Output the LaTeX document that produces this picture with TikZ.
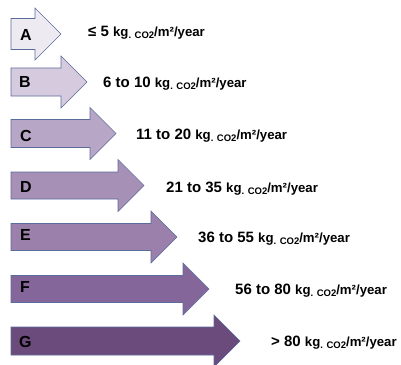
\documentclass[tikz,border=0pt]{standalone}
\usepackage{fontspec}
\setmainfont{Liberation Sans}
\definecolor{arrowline}{HTML}{5A6C9C}
\definecolor{cA}{HTML}{EEEAF2}
\definecolor{cB}{HTML}{D6CADF}
\definecolor{cC}{HTML}{B8A6C6}
\definecolor{cD}{HTML}{A690B5}
\definecolor{cE}{HTML}{9A80AA}
\definecolor{cF}{HTML}{85669A}
\definecolor{cG}{HTML}{6B4A7C}
\tikzset{
  arrowshape/.style={draw=arrowline, line width=0.6pt, line join=miter},
  lettertext/.style={font=\fontsize{16}{16}\selectfont\bfseries, anchor=base west, inner sep=0pt},
  valtext/.style={font=\fontsize{15}{15}\selectfont\bfseries, anchor=base west, inner sep=0pt},
}
\newcommand{\unitstr}{{\fontsize{13.2}{13}\selectfont kg\raisebox{-2.5pt}{\fontsize{9.5}{9}\selectfont. CO2}/m²/year}}
% #1 name, #2 head start x, #3 centre y, #4 colour, #5 shaft half height
\newcommand{\ratingarrow}[5]{%
  \filldraw[arrowshape, fill=#4] (11,#3-#5) -- (#2,#3-#5) -- (#2,#3-26) -- (#2+26,#3)
    -- (#2,#3+26) -- (#2,#3+#5) -- (11,#3+#5) -- cycle;
  \coordinate (#1tip) at (#2+26,#3);
}
\begin{document}
\begin{tikzpicture}[x=1pt,y=-1pt]
\useasboundingbox (0,0) rectangle (401,364);
\ratingarrow{A}{35}{34}{cA}{15.5}
\ratingarrow{B}{61}{82}{cB}{14}
\ratingarrow{C}{90}{133.5}{cC}{14}
\ratingarrow{D}{118}{185.5}{cD}{13.5}
\ratingarrow{E}{151}{237}{cE}{13.5}
\ratingarrow{F}{183}{289}{cF}{13.5}
\ratingarrow{G}{214}{341}{cG}{14}
\node[lettertext] (lA) at (20,40) {A};
\node[lettertext] (lB) at (19,87) {B};
\node[lettertext] (lC) at (20,141) {C};
\node[lettertext] (lD) at (20,192) {D};
\node[lettertext] (lE) at (20,240) {E};
\node[lettertext] (lF) at (20,292) {F};
\node[lettertext] (lG) at (19,347) {G};
\node[valtext] (vA) at (88,36) {≤ 5 \unitstr};
\node[valtext] (vB) at (103,87) {6 to 10 \unitstr};
\node[valtext] (vC) at (136,139) {11 to 20 \unitstr};
\node[valtext] (vD) at (166,192) {21 to 35 \unitstr};
\node[valtext] (vE) at (198,242) {36 to 55 \unitstr};
\node[valtext] (vF) at (235,294) {56 to 80 \unitstr};
\node[valtext] (vG) at (271,346) {> 80 \unitstr};
\end{tikzpicture}
\end{document}
